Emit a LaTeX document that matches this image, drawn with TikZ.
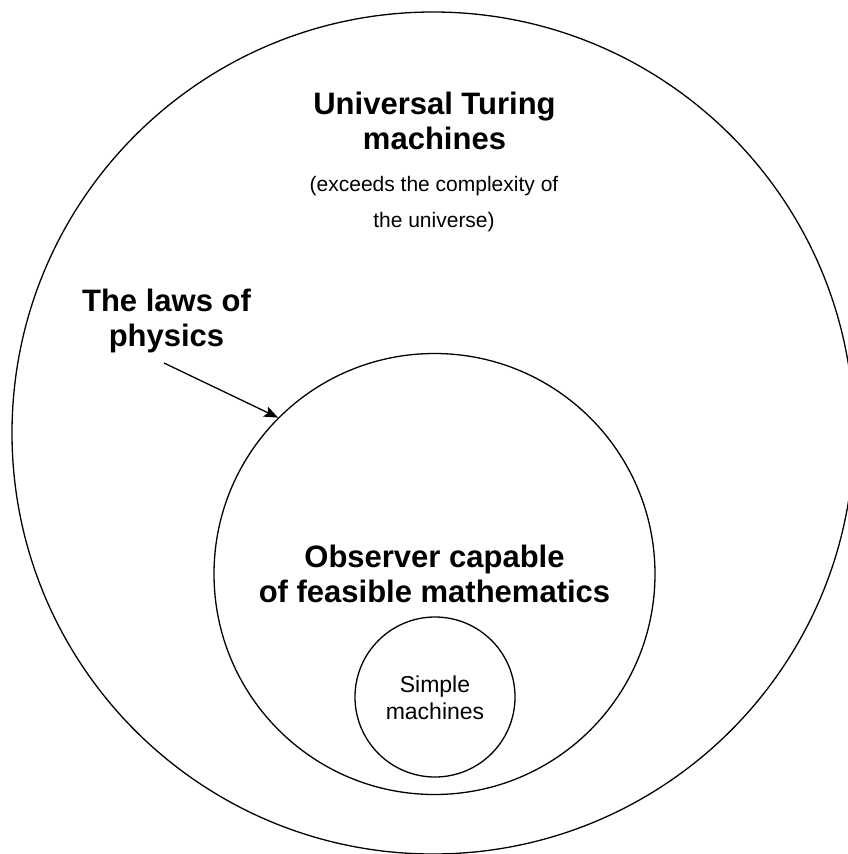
\documentclass[tikz,border=0pt]{standalone}
\usepackage{fontspec}
\setmainfont{Liberation Sans}
\usetikzlibrary{arrows.meta}
\tikzset{
  ring/.style={draw, circle, line width=1.3pt, inner sep=0pt},
  title/.style={align=center, inner sep=0pt, font=\bfseries\fontsize{31}{35}\selectfont},
  remark/.style={align=center, inner sep=0pt, font=\fontsize{21}{36}\selectfont},
  small/.style={align=center, inner sep=0pt, font=\fontsize{23}{27}\selectfont}
}
\begin{document}
\begin{tikzpicture}[x=1pt, y=-1pt]
  \useasboundingbox (0,0) rectangle (847,854);
  \node[ring, minimum size=842pt] (universe) at (433,433) {};
  \node[ring, minimum size=441pt] (observer) at (434.5,574) {};
  \node[ring, minimum size=160pt] (simple) at (435,697) {};
  \node[title] (utm) at (434.5,121) {Universal Turing\\machines};
  \node[remark] (utmnote) at (434,204.5) {(exceeds the complexity of\\the universe)};
  \node[title] (laws) at (166.5,320.5) {The laws of\\physics};
  \node[title] (obslabel) at (observer.center) {Observer capable\\of feasible mathematics};
  \node[small] (simplelabel) at (435,698) {Simple\\machines};
  \coordinate (lawtail) at (164,363);
  \draw[-{Stealth[length=14pt, width=11pt, inset=3pt]}, line width=1.3pt] (lawtail) -- (observer.135);
\end{tikzpicture}
\end{document}
